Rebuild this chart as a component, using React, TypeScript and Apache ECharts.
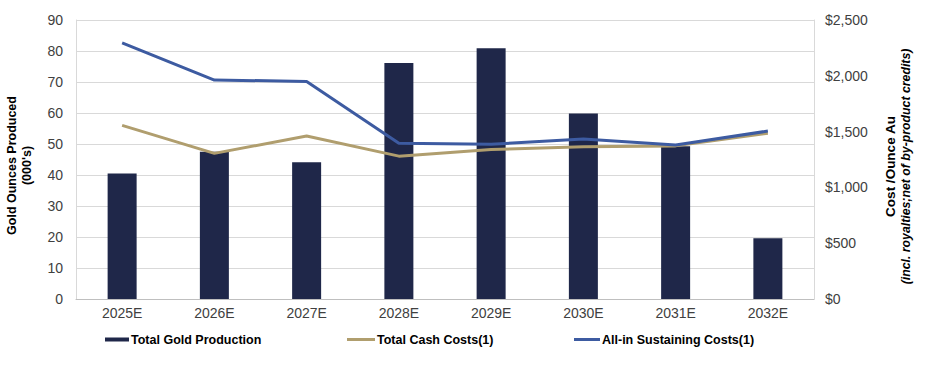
import React, { useEffect, useRef } from "react";
import * as echarts from "echarts";

const categories = ["2025E", "2026E", "2027E", "2028E", "2029E", "2030E", "2031E", "2032E"];
const goldProduction = [40.5, 47.5, 44.1, 76.1, 80.9, 59.8, 49.3, 19.6];
const totalCashCosts = [1556, 1305, 1460, 1280, 1340, 1365, 1372, 1485];
const allInSustainingCosts = [2295, 1962, 1950, 1395, 1387, 1434, 1380, 1505];
const leftTicks = { min: 0, max: 90, interval: 10 };
const rightTicks = { min: 0, max: 2500, interval: 500 };

const FONT = "Liberation Sans, Arial, sans-serif";

export default function App() {
  const ref = useRef<HTMLDivElement>(null);
  useEffect(() => {
    if (!ref.current) return;
    const chart = echarts.init(ref.current, null, { renderer: "svg" });
    const legendText = { fontFamily: FONT, fontSize: 12.5, fontWeight: "bold", color: "#000", padding: [0, 0, 0, -3] };
    chart.setOption({
      animation: false,
      backgroundColor: "#ffffff",
      textStyle: { fontFamily: FONT },
      grid: { left: 76, right: 133, top: 20, bottom: 66, outerBoundsMode: "none", containLabel: false },
      legend: [
        {
          left: 105, top: 333, padding: 0, icon: "rect", itemWidth: 24, itemHeight: 4,
          data: ["Total Gold Production"], textStyle: legendText,
        },
        {
          left: 347, top: 333, padding: 0, icon: "rect", itemWidth: 28, itemHeight: 3,
          data: ["Total Cash Costs(1)"], textStyle: legendText,
        },
        {
          left: 574, top: 333, padding: 0, icon: "rect", itemWidth: 26, itemHeight: 3,
          data: ["All-in Sustaining Costs(1)"], textStyle: legendText,
        },
      ],
      xAxis: {
        type: "category",
        data: categories,
        axisLine: { lineStyle: { color: "#BFBFBF", width: 1 } },
        axisTick: { show: false },
        axisLabel: { fontFamily: FONT, fontSize: 14, color: "#404040", margin: 7 },
      },
      yAxis: [
        {
          type: "value",
          min: leftTicks.min, max: leftTicks.max, interval: leftTicks.interval,
          position: "left",
          name: "Gold Ounces Produced\n(000's)",
          nameLocation: "middle",
          nameRotate: 90,
          nameGap: 42,
          nameTextStyle: {
            fontFamily: FONT, fontSize: 12.5, fontWeight: "bold", color: "#000", lineHeight: 15,
            padding: [0, 12, 0, 0],
          },
          axisLine: { show: true, lineStyle: { color: "#D9D9D9" } },
          axisTick: { show: false },
          axisLabel: { fontFamily: FONT, fontSize: 14, color: "#404040", margin: 13 },
          splitLine: { show: true, lineStyle: { color: "#D9D9D9", width: 1 } },
        },
        {
          type: "value",
          min: rightTicks.min, max: rightTicks.max, interval: rightTicks.interval,
          position: "right",
          name: "{a|Cost /Ounce Au}\n{b|(incl. royalties;net of by-product credits)}",
          nameLocation: "middle",
          nameRotate: 90,
          nameGap: 69,
          nameTextStyle: {
            fontFamily: FONT, color: "#000",
            padding: [0, 14, 0, 0],
            rich: {
              a: { fontFamily: FONT, fontSize: 13.5, fontWeight: "bold", color: "#000", lineHeight: 15 },
              b: { fontFamily: FONT, fontSize: 12.3, fontWeight: "bold", fontStyle: "italic", color: "#000", lineHeight: 15 },
            },
          },
          axisLine: { show: true, lineStyle: { color: "#D9D9D9" } },
          axisTick: { show: false },
          axisLabel: {
            fontFamily: FONT, fontSize: 14, color: "#404040", margin: 11,
            formatter: (v: number) => "$" + v.toLocaleString("en-US"),
          },
          splitLine: { show: false },
        },
      ],
      series: [
        {
          name: "Total Gold Production",
          type: "bar",
          yAxisIndex: 0,
          data: goldProduction,
          barWidth: 29,
          itemStyle: { color: "#1F2749" },
        },
        {
          name: "Total Cash Costs(1)",
          type: "line",
          yAxisIndex: 1,
          data: totalCashCosts,
          symbol: "none",
          lineStyle: { color: "#B09E6E", width: 3 },
          itemStyle: { color: "#B09E6E" },
        },
        {
          name: "All-in Sustaining Costs(1)",
          type: "line",
          yAxisIndex: 1,
          data: allInSustainingCosts,
          symbol: "none",
          lineStyle: { color: "#3D5BA1", width: 3 },
          itemStyle: { color: "#3D5BA1" },
        },
      ],
    });
    return () => chart.dispose();
  }, []);
  return (
    <div
      ref={ref}
      style={{ position: "fixed", left: 0, top: 0, width: 947, height: 365, background: "#fff" }}
    />
  );
}
